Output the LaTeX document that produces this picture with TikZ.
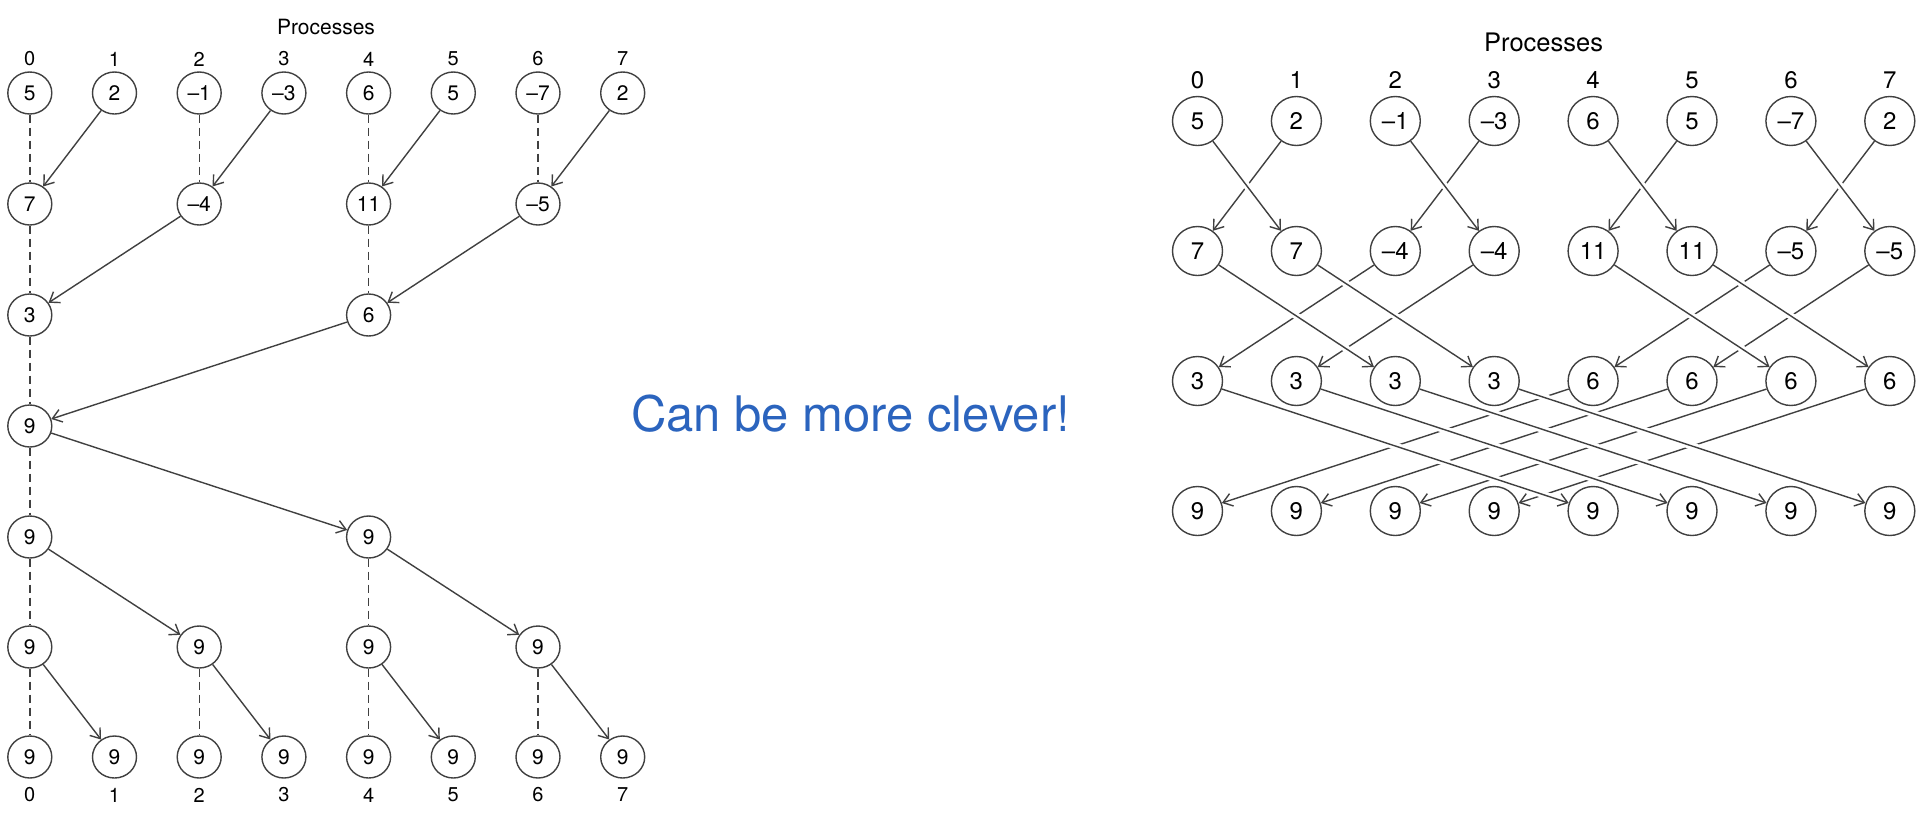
\documentclass[tikz,border=0pt]{standalone}
\usepackage{fontspec}
\setmainfont{TeX Gyre Heros}
\usetikzlibrary{shapes.geometric,arrows.meta}
\definecolor{lc}{HTML}{404040}
\definecolor{bluetxt}{RGB}{43,100,190}
\begin{document}
\begin{tikzpicture}[x=1pt,y=-1pt,
  nd/.style={ellipse, draw=lc, line width=1.4pt, minimum width=44pt, minimum height=42pt, inner sep=0pt, font=\fontsize{21}{21}\selectfont},
  ndr/.style={nd, minimum width=50pt, minimum height=49pt, font=\fontsize{24}{24}\selectfont},
  lbl/.style={inner sep=0pt, font=\fontsize{20}{20}\selectfont},
  lblr/.style={inner sep=0pt, font=\fontsize{24}{24}\selectfont},
  ttl/.style={inner sep=0pt, font=\fontsize{21}{21}\selectfont},
  ttlr/.style={inner sep=0pt, font=\fontsize{25.5}{25.5}\selectfont},
  arr/.style={draw=lc, line width=1.4pt, -{Straight Barb[length=9pt,width=13pt,line width=1.4pt]}},
  dsh/.style={draw=lc, line width=1.4pt, dash pattern=on 8pt off 5pt},
  gap/.style={preaction={draw=white, line width=7pt, -, shorten <=14pt, shorten >=14pt}}]
\useasboundingbox (0,0) rectangle (1930,812);

% ---------------- left diagram ----------------
\node[ttl] (LT) at (326,27) {Processes};
\foreach \i in {0,...,7} {
  \node[lbl] (LLT\i) at ({29.8+84.7*\i},59) {\i};
  \node[lbl] (LLB\i) at ({29.8+84.7*\i},795) {\i};
}
\foreach \v [count=\k from 0] in {5,2,–1,–3,6,5,–7,2}
  \node[nd] (L0\k) at ({29.8+84.7*\k},93) {\v};
\foreach \c/\v in {0/7,2/–4,4/11,6/–5}
  \node[nd] (L1\c) at ({29.8+84.7*\c},204) {\v};
\foreach \c/\v in {0/3,4/6}
  \node[nd] (L2\c) at ({29.8+84.7*\c},315) {\v};
\node[nd] (L30) at (29.8,426) {9};
\foreach \c in {0,4}
  \node[nd] (L4\c) at ({29.8+84.7*\c},537) {9};
\foreach \c in {0,2,4,6}
  \node[nd] (L5\c) at ({29.8+84.7*\c},647) {9};
\foreach \c in {0,...,7}
  \node[nd] (L6\c) at ({29.8+84.7*\c},757) {9};

% dashed stays
\foreach \c in {0,2,4,6} \draw[dsh] (L0\c) -- (L1\c);
\foreach \c in {0,4} \draw[dsh] (L1\c) -- (L2\c);
\draw[dsh] (L20) -- (L30);
\draw[dsh] (L30) -- (L40);
\foreach \c in {0,4} \draw[dsh] (L4\c) -- (L5\c);
\foreach \c in {0,2,4,6} \draw[dsh] (L5\c) -- (L6\c);

% arrows
\foreach \a/\b in {1/0,3/2,5/4,7/6} \draw[arr] (L0\a) -- (L1\b);
\foreach \a/\b in {2/0,6/4} \draw[arr] (L1\a) -- (L2\b);
\draw[arr] (L24) -- (L30);
\draw[arr] (L30) -- (L44);
\foreach \a/\b in {0/2,4/6} \draw[arr] (L4\a) -- (L5\b);
\foreach \a/\b in {0/1,2/3,4/5,6/7} \draw[arr] (L5\a) -- (L6\b);

% ---------------- middle text ----------------
\node[inner sep=0pt, anchor=base, text=bluetxt, font=\fontsize{49}{49}\selectfont] (MID) at (850.5,431) {Can be more clever!};

% ---------------- right diagram ----------------
\node[ttlr] (RT) at (1543.6,42) {Processes};
\foreach \i in {0,...,7}
  \node[lblr] (RL\i) at ({1197.5+98.9*\i},80) {\i};
\foreach \v [count=\k from 0] in {5,2,–1,–3,6,5,–7,2}
  \node[ndr] (R0\k) at ({1197.5+98.9*\k},121) {\v};
\foreach \v [count=\k from 0] in {7,7,–4,–4,11,11,–5,–5}
  \node[ndr] (R1\k) at ({1197.5+98.9*\k},251) {\v};
\foreach \v [count=\k from 0] in {3,3,3,3,6,6,6,6}
  \node[ndr] (R2\k) at ({1197.5+98.9*\k},381) {\v};
\foreach \k in {0,...,7}
  \node[ndr] (R3\k) at ({1197.5+98.9*\k},511) {9};

% down-left arrows first
\foreach \a/\b in {1/0,3/2,5/4,7/6} \draw[arr] (R0\a) -- (R1\b);
\foreach \a/\b in {2/0,3/1,6/4,7/5} \draw[arr] (R1\a) -- (R2\b);
\foreach \a/\b in {4/0,5/1,6/2,7/3} \draw[arr] (R2\a) -- (R3\b);
% down-right arrows on top, with gaps
\foreach \a/\b in {0/1,2/3,4/5,6/7} \draw[arr,gap] (R0\a) -- (R1\b);
\foreach \a/\b in {0/2,1/3,4/6,5/7} \draw[arr,gap] (R1\a) -- (R2\b);
\foreach \a/\b in {0/4,1/5,2/6,3/7} \draw[arr,gap] (R2\a) -- (R3\b);
\end{tikzpicture}
\end{document}
